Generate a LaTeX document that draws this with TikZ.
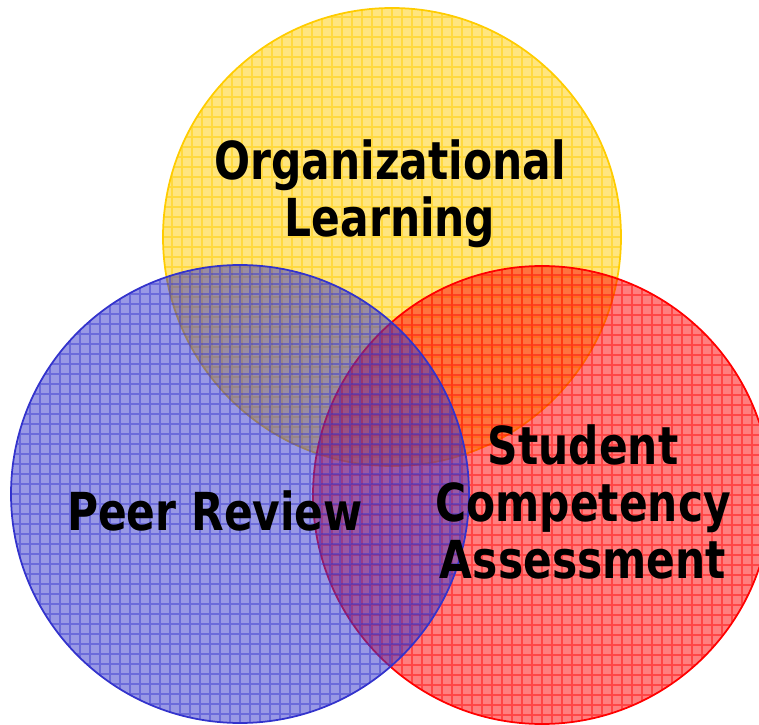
\documentclass[tikz,border=0pt]{standalone}
\usepackage{fontspec}
\setmainfont{DejaVu Sans}[FakeStretch=0.81]
\usetikzlibrary{positioning}

\definecolor{orgline}{HTML}{FFCC00}
\definecolor{peerline}{HTML}{3333CC}
\definecolor{compline}{HTML}{FF0000}

\begin{document}
\begin{tikzpicture}[
    area/.style={circle, inner sep=0pt, minimum size=4.58cm, line width=0.5pt},
    gridded/.style={path picture={
        \draw[#1, line width=0.35pt, step=0.1]
          (path picture bounding box.south west) grid (path picture bounding box.north east);}},
    label/.style={font=\bfseries\fontsize{14.9}{16.3}\selectfont, align=center, text=black, inner sep=0pt}
  ]
    \useasboundingbox (0,0) rectangle (7.59,7.24);

    %=== Kreise ===%
    \node[area, draw=orgline, fill=orgline, fill opacity=0.5,
          gridded={orgline, opacity=0.5}] (org) at (3.92,4.87) {};
    \node[area, draw=compline, fill=compline, fill opacity=0.5,
          gridded={compline, opacity=0.45}] (comp) at (5.42,2.29) {};
    \node[area, draw=peerline, fill=peerline, fill opacity=0.5,
          gridded={peerline, opacity=0.45}] (peer) at (2.40,2.30) {};

    %=== Beschriftungen ===%
    \node[label] (orgtext)  at (3.90,5.30) {Organizational\\Learning};
    \node[label] (peertext) at (2.15,2.13) {Peer Review};
    \node[label] (comptext) at (5.83,2.22) {Student\\Competency\\Assessment};
\end{tikzpicture}
\end{document}
